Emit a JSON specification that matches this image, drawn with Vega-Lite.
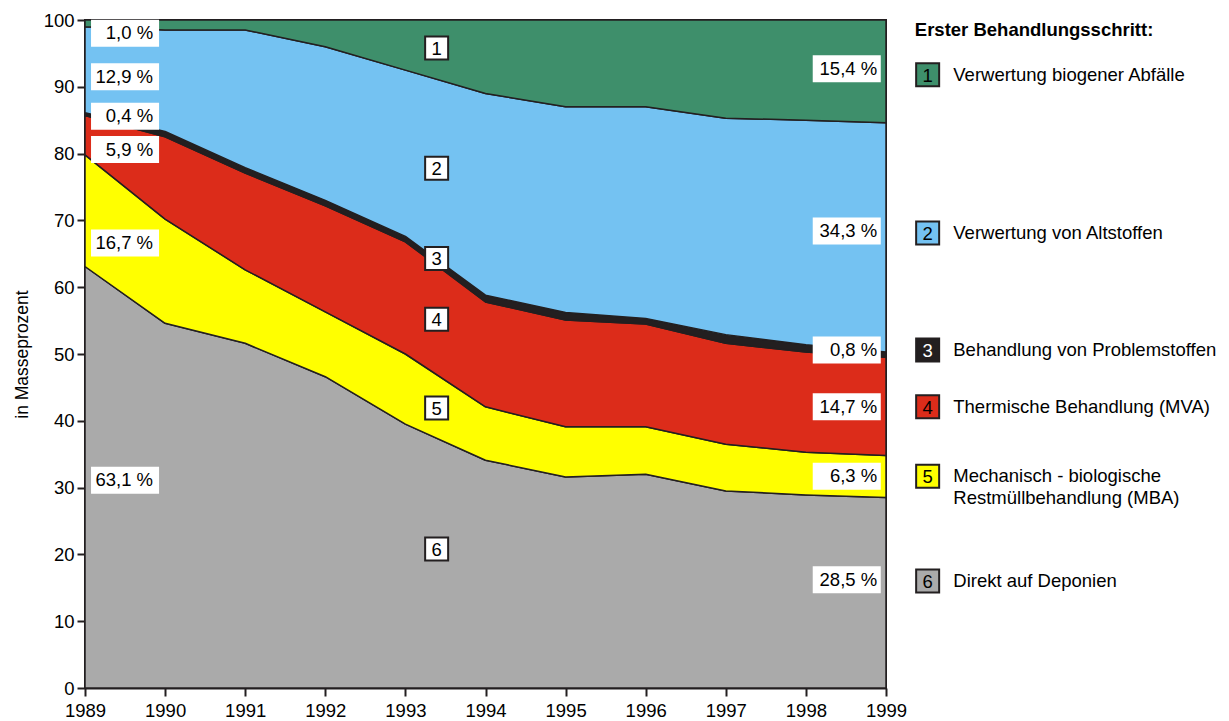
{
  "$schema": "https://vega.github.io/schema/vega-lite/v6.json",
  "width": 801,
  "height": 668,
  "autosize": {"type": "none"},
  "padding": {"left": 85, "top": 20, "right": 343, "bottom": 33},
  "background": "white",
  "config": {
    "view": {"stroke": "#231f20", "strokeWidth": 2},
    "font": "Liberation Sans",
    "axis": {
      "labelFontSize": 18.5,
      "labelColor": "#000000",
      "tickColor": "#231f20",
      "tickWidth": 2,
      "tickSize": 8,
      "domainColor": "#231f20",
      "domainWidth": 2,
      "grid": false,
      "titleFontWeight": "normal",
      "titleColor": "#000000",
      "labelFont": "Liberation Sans",
      "titleFont": "Liberation Sans",
      "labelFlush": false
    }
  },
  "datasets": {
    "areas": [
      {"year": 1989, "k": "6", "v": 63.1}, {"year": 1990, "k": "6", "v": 54.6}, {"year": 1991, "k": "6", "v": 51.6}, {"year": 1992, "k": "6", "v": 46.6}, {"year": 1993, "k": "6", "v": 39.5}, {"year": 1994, "k": "6", "v": 34.1}, {"year": 1995, "k": "6", "v": 31.6}, {"year": 1996, "k": "6", "v": 32.0}, {"year": 1997, "k": "6", "v": 29.5}, {"year": 1998, "k": "6", "v": 28.9}, {"year": 1999, "k": "6", "v": 28.5},
      {"year": 1989, "k": "5", "v": 16.7}, {"year": 1990, "k": "5", "v": 15.6}, {"year": 1991, "k": "5", "v": 11.0}, {"year": 1992, "k": "5", "v": 9.7}, {"year": 1993, "k": "5", "v": 10.5}, {"year": 1994, "k": "5", "v": 8.0}, {"year": 1995, "k": "5", "v": 7.5}, {"year": 1996, "k": "5", "v": 7.1}, {"year": 1997, "k": "5", "v": 7.0}, {"year": 1998, "k": "5", "v": 6.4}, {"year": 1999, "k": "5", "v": 6.3},
      {"year": 1989, "k": "4", "v": 5.9}, {"year": 1990, "k": "4", "v": 12.3}, {"year": 1991, "k": "4", "v": 14.5}, {"year": 1992, "k": "4", "v": 15.9}, {"year": 1993, "k": "4", "v": 16.8}, {"year": 1994, "k": "4", "v": 15.7}, {"year": 1995, "k": "4", "v": 16.0}, {"year": 1996, "k": "4", "v": 15.4}, {"year": 1997, "k": "4", "v": 15.1}, {"year": 1998, "k": "4", "v": 15.0}, {"year": 1999, "k": "4", "v": 14.7},
      {"year": 1989, "k": "3", "v": 0.4}, {"year": 1990, "k": "3", "v": 0.8}, {"year": 1991, "k": "3", "v": 0.8}, {"year": 1992, "k": "3", "v": 0.8}, {"year": 1993, "k": "3", "v": 0.8}, {"year": 1994, "k": "3", "v": 1.0}, {"year": 1995, "k": "3", "v": 1.1}, {"year": 1996, "k": "3", "v": 0.8}, {"year": 1997, "k": "3", "v": 1.3}, {"year": 1998, "k": "3", "v": 1.1}, {"year": 1999, "k": "3", "v": 0.8},
      {"year": 1989, "k": "2", "v": 12.9}, {"year": 1990, "k": "2", "v": 15.2}, {"year": 1991, "k": "2", "v": 20.6}, {"year": 1992, "k": "2", "v": 23.0}, {"year": 1993, "k": "2", "v": 24.9}, {"year": 1994, "k": "2", "v": 30.2}, {"year": 1995, "k": "2", "v": 30.8}, {"year": 1996, "k": "2", "v": 31.7}, {"year": 1997, "k": "2", "v": 32.4}, {"year": 1998, "k": "2", "v": 33.6}, {"year": 1999, "k": "2", "v": 34.3},
      {"year": 1989, "k": "1", "v": 1.0}, {"year": 1990, "k": "1", "v": 1.5}, {"year": 1991, "k": "1", "v": 1.5}, {"year": 1992, "k": "1", "v": 4.0}, {"year": 1993, "k": "1", "v": 7.5}, {"year": 1994, "k": "1", "v": 11.0}, {"year": 1995, "k": "1", "v": 13.0}, {"year": 1996, "k": "1", "v": 13.0}, {"year": 1997, "k": "1", "v": 14.7}, {"year": 1998, "k": "1", "v": 15.0}, {"year": 1999, "k": "1", "v": 15.4}
    ],
    "labels": [
      {"bx": 1989.5, "tx": 1989.85, "y": 98.0, "t": "1,0 %"},
      {"bx": 1989.5, "tx": 1989.85, "y": 91.5, "t": "12,9 %"},
      {"bx": 1989.5, "tx": 1989.85, "y": 85.6, "t": "0,4 %"},
      {"bx": 1989.5, "tx": 1989.85, "y": 80.6, "t": "5,9 %"},
      {"bx": 1989.5, "tx": 1989.85, "y": 66.6, "t": "16,7 %"},
      {"bx": 1989.5, "tx": 1989.85, "y": 31.1, "t": "63,1 %"},
      {"bx": 1998.51, "tx": 1998.89, "y": 92.7, "t": "15,4 %"},
      {"bx": 1998.51, "tx": 1998.89, "y": 68.4, "t": "34,3 %"},
      {"bx": 1998.51, "tx": 1998.89, "y": 50.6, "t": "0,8 %"},
      {"bx": 1998.51, "tx": 1998.89, "y": 42.1, "t": "14,7 %"},
      {"bx": 1998.51, "tx": 1998.89, "y": 31.7, "t": "6,3 %"},
      {"bx": 1998.51, "tx": 1998.89, "y": 16.2, "t": "28,5 %"}
    ],
    "numbers": [
      {"nx": 1993.39, "y": 95.8, "n": "1"},
      {"nx": 1993.39, "y": 77.8, "n": "2"},
      {"nx": 1993.39, "y": 64.3, "n": "3"},
      {"nx": 1993.39, "y": 55.2, "n": "4"},
      {"nx": 1993.39, "y": 41.9, "n": "5"},
      {"nx": 1993.39, "y": 20.8, "n": "6"}
    ],
    "legend": [
      {"k": "1", "sx": 1999.52, "lx": 1999.84, "y": 91.8, "lab": "Verwertung biogener Abfälle"},
      {"k": "2", "sx": 1999.52, "lx": 1999.84, "y": 68.1, "lab": "Verwertung von Altstoffen"},
      {"k": "3", "sx": 1999.52, "lx": 1999.84, "y": 50.6, "lab": "Behandlung von Problemstoffen"},
      {"k": "4", "sx": 1999.52, "lx": 1999.84, "y": 42.1, "lab": "Thermische Behandlung (MVA)"},
      {"k": "5", "sx": 1999.52, "lx": 1999.84, "y": 31.7, "lab": "Mechanisch - biologische\nRestmüllbehandlung (MBA)"},
      {"k": "6", "sx": 1999.52, "lx": 1999.84, "y": 16.0, "lab": "Direkt auf Deponien"}
    ],
    "title": [
      {"x": 1999.36, "y": 98.5, "t": "Erster Behandlungsschritt:"}
    ]
  },
  "layer": [
    {
      "data": {"name": "areas"},
      "mark": {"type": "area", "stroke": "#231f20", "strokeWidth": 1.5, "strokeJoin": "round"},
      "encoding": {
        "x": {
          "field": "year", "type": "quantitative",
          "scale": {"domain": [1989, 1999], "nice": false, "zero": false},
          "axis": {"values": [1989, 1990, 1991, 1992, 1993, 1994, 1995, 1996, 1997, 1998, 1999], "format": "d", "title": null, "labelPadding": 5}
        },
        "y": {
          "field": "v", "type": "quantitative", "stack": "zero",
          "scale": {"domain": [0, 100], "nice": false},
          "axis": {"values": [0, 10, 20, 30, 40, 50, 60, 70, 80, 90, 100], "title": "in Masseprozent", "titleFontSize": 17.5, "titlePadding": 12, "labelPadding": 3}
        },
        "color": {
          "field": "k", "type": "nominal",
          "scale": {"domain": ["1", "2", "3", "4", "5", "6"], "range": ["#3e8f6b", "#74c2f2", "#231f20", "#dc2c1a", "#ffff00", "#aaaaaa"]},
          "legend": null
        },
        "order": {"field": "k", "sort": "descending"}
      }
    },
    {
      "data": {"name": "labels"},
      "mark": {"type": "point", "shape": "M-1.26,-0.5H1.26V0.5H-1.26Z", "size": 2916, "filled": true, "fill": "white", "strokeWidth": 0, "opacity": 1},
      "encoding": {
        "x": {"field": "bx", "type": "quantitative"},
        "y": {"field": "y", "type": "quantitative"}
      }
    },
    {
      "data": {"name": "labels"},
      "mark": {"type": "text", "align": "right", "baseline": "middle", "fontSize": 18.5, "color": "#000000"},
      "encoding": {
        "x": {"field": "tx", "type": "quantitative"},
        "y": {"field": "y", "type": "quantitative"},
        "text": {"field": "t"}
      }
    },
    {
      "data": {"name": "numbers"},
      "mark": {"type": "point", "shape": "square", "size": 529, "filled": true, "fill": "white", "stroke": "#231f20", "strokeWidth": 2, "opacity": 1},
      "encoding": {
        "x": {"field": "nx", "type": "quantitative"},
        "y": {"field": "y", "type": "quantitative"}
      }
    },
    {
      "data": {"name": "numbers"},
      "mark": {"type": "text", "align": "center", "baseline": "middle", "fontSize": 18.5, "color": "#000000", "dy": 1},
      "encoding": {
        "x": {"field": "nx", "type": "quantitative"},
        "y": {"field": "y", "type": "quantitative"},
        "text": {"field": "n"}
      }
    },
    {
      "data": {"name": "legend"},
      "mark": {"type": "point", "shape": "square", "size": 529, "filled": true, "stroke": "#231f20", "strokeWidth": 2, "opacity": 1},
      "encoding": {
        "x": {"field": "sx", "type": "quantitative"},
        "y": {"field": "y", "type": "quantitative"},
        "fill": {"field": "k", "type": "nominal", "scale": {"domain": ["1", "2", "3", "4", "5", "6"], "range": ["#3e8f6b", "#74c2f2", "#231f20", "#dc2c1a", "#ffff00", "#aaaaaa"]}, "legend": null}
      }
    },
    {
      "data": {"name": "legend"},
      "mark": {"type": "text", "align": "center", "baseline": "middle", "fontSize": 18.5, "dy": 1},
      "encoding": {
        "x": {"field": "sx", "type": "quantitative"},
        "y": {"field": "y", "type": "quantitative"},
        "text": {"field": "k"},
        "color": {"condition": {"test": "datum.k === '3'", "value": "#ffffff"}, "value": "#000000"}
      }
    },
    {
      "data": {"name": "legend"},
      "mark": {"type": "text", "align": "left", "baseline": "middle", "fontSize": 18.5, "color": "#000000", "lineBreak": "\n", "lineHeight": 22},
      "encoding": {
        "x": {"field": "lx", "type": "quantitative"},
        "y": {"field": "y", "type": "quantitative"},
        "text": {"field": "lab"}
      }
    },
    {
      "data": {"name": "title"},
      "mark": {"type": "text", "align": "left", "baseline": "middle", "fontSize": 18.5, "fontWeight": "bold", "color": "#000000"},
      "encoding": {
        "x": {"field": "x", "type": "quantitative"},
        "y": {"field": "y", "type": "quantitative"},
        "text": {"field": "t"}
      }
    }
  ]
}
